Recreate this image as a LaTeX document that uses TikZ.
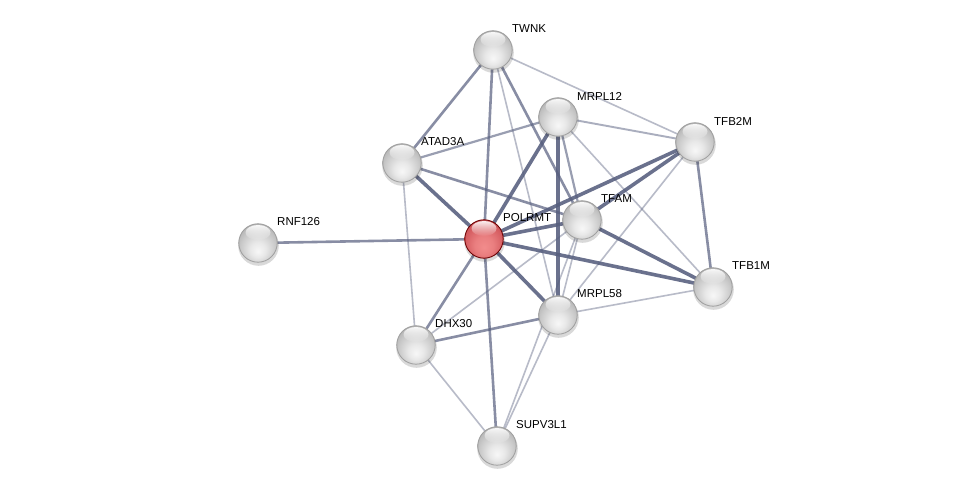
\documentclass[tikz,border=0pt]{standalone}
\usepackage{fontspec}
\setmainfont{Liberation Sans}
\usetikzlibrary{calc,fadings}
\definecolor{edgecol}{RGB}{86,94,126}
\definecolor{redtop}{RGB}{200,72,78}
\definecolor{redbot}{RGB}{242,140,140}
\pgfdeclareradialshading{graysph}{\pgfpoint{0bp}{-11bp}}{%
  color(0bp)=(white!97!black); color(10bp)=(white!91!black); color(22bp)=(white!79!black); color(32bp)=(white!68!black); color(38bp)=(white!60!black); color(50bp)=(white!60!black)}
\pgfdeclareradialshading{redsph}{\pgfpoint{0bp}{-11bp}}{%
  color(0bp)=(redbot); color(12bp)=(redbot!80!redtop); color(26bp)=(redtop!75!redbot); color(36bp)=(redtop); color(50bp)=(redtop)}
\tikzset{
  protein/.style={circle, minimum size=39pt, inner sep=0pt},
  lbl/.style={anchor=west, inner sep=0pt, font=\fontsize{11.5}{13}\selectfont},
  ethick/.style={draw=edgecol, line width=3.6pt, draw opacity=0.88},
  emed/.style={draw=edgecol, line width=2.6pt, draw opacity=0.7},
  ethin/.style={draw=edgecol, line width=1.6pt, draw opacity=0.42},
  shadowc/.style={fill=black, fill opacity=0.15, draw=none}
}
\begin{document}
\begin{tikzpicture}[x=1pt,y=-1pt]
\useasboundingbox (0,0) rectangle (976,492);
\fill[white] (0,0) rectangle (976,492);
% coordinates
\coordinate (cTWNK) at (493,50);
\coordinate (cMRPL12) at (558,117);
\coordinate (cTFB2M) at (695,142);
\coordinate (cATAD3A) at (402,163);
\coordinate (cTFAM) at (582,220);
\coordinate (cPOLRMT) at (484,239);
\coordinate (cRNF126) at (258,243);
\coordinate (cTFB1M) at (713,287);
\coordinate (cMRPL58) at (558,315);
\coordinate (cDHX30) at (416,345);
\coordinate (cSUPV3L1) at (497,446);
% edges
\draw[ethin] (cTWNK) -- (cMRPL58);
\draw[ethin] (cTWNK) -- (cTFB2M);
\draw[ethin] (cMRPL12) -- (cTFB1M);
\draw[ethin] (cTFB2M) -- (cMRPL58);
\draw[ethin] (cTFAM) -- (cMRPL58);
\draw[ethin] (cTFAM) -- (cDHX30);
\draw[ethin] (cTFAM) -- (cSUPV3L1);
\draw[ethin] (cATAD3A) -- (cDHX30);
\draw[ethin] (cDHX30) -- (cSUPV3L1);
\draw[ethin] (cMRPL58) -- (cSUPV3L1);
\draw[ethin] (cMRPL58) -- (cTFB1M);
\draw[ethin, draw opacity=0.5, line width=1.9pt] (cMRPL12) -- (cTFB2M);
\draw[emed, draw opacity=0.6, line width=2.2pt] (cMRPL12) -- (cATAD3A);
\draw[emed, draw opacity=0.6, line width=2.2pt] (cMRPL12) -- (cTFAM);
\draw[emed] (cRNF126) -- (cPOLRMT);
\draw[emed] (cTWNK) -- (cPOLRMT);
\draw[emed] (cDHX30) -- (cPOLRMT);
\draw[emed] (cSUPV3L1) -- (cPOLRMT);
\draw[emed] (cTWNK) -- (cATAD3A);
\draw[emed] (cTWNK) -- (cTFAM);
\draw[emed] (cTFB2M) -- (cTFB1M);
\draw[emed] (cTFAM) -- (cATAD3A);
\draw[emed] (cDHX30) -- (cMRPL58);
\draw[ethick] (cATAD3A) -- (cPOLRMT);
\draw[ethick] (cMRPL12) -- (cPOLRMT);
\draw[ethick] (cTFB2M) -- (cPOLRMT);
\draw[ethick] (cTFAM) -- (cPOLRMT);
\draw[ethick] (cTFB1M) -- (cPOLRMT);
\draw[ethick] (cMRPL58) -- (cPOLRMT);
\draw[ethick] (cMRPL12) -- (cMRPL58);
\draw[ethick] (cTFB2M) -- (cTFAM);
\draw[ethick] (cTFAM) -- (cTFB1M);
% spheres
\foreach \n/\sh/\rim in {TWNK/graysph/gray!75,MRPL12/graysph/gray!75,TFB2M/graysph/gray!75,ATAD3A/graysph/gray!75,TFAM/graysph/gray!75,POLRMT/redsph/red!40!black,RNF126/graysph/gray!75,TFB1M/graysph/gray!75,MRPL58/graysph/gray!75,DHX30/graysph/gray!75,SUPV3L1/graysph/gray!75}{
  \fill[shadowc] ($(c\n)+(0.5,2.5)$) circle (20.3pt);
  \shade[shading=\sh] (c\n) circle (19.5pt);
  \draw[\rim, line width=0.8pt] (c\n) circle (19.2pt);
  \fill[white, path fading=south, fill opacity=0.9] ($(c\n)+(0,-10.5)$) ellipse (12.5pt and 7.5pt);
}
% nodes
\foreach \n in {TWNK,MRPL12,TFB2M,ATAD3A,TFAM,POLRMT,RNF126,TFB1M,MRPL58,DHX30,SUPV3L1}{
  \node[protein] (\n) at (c\n) {};
  \node[lbl] (l\n) at ($(c\n)+(19,-21)$) {\n};
}
\end{tikzpicture}
\end{document}
